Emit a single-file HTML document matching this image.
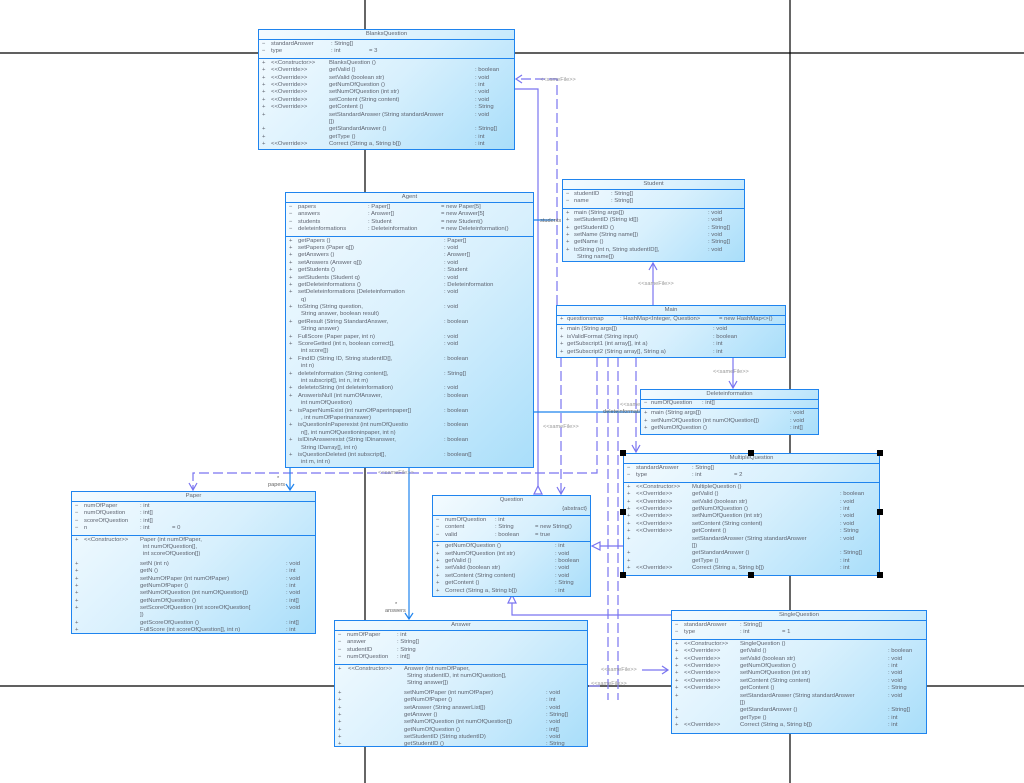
<!DOCTYPE html>
<html><head><meta charset="utf-8"><style>
body{margin:0;width:1024px;height:783px;background:#fff;position:relative;overflow:hidden;font-family:"Liberation Sans",sans-serif;}
.bx{position:absolute;border:1.5px solid #1f84ee;background:linear-gradient(135deg,#f4fbff 0%,#d8f0fd 50%,#a9defa 100%);box-sizing:border-box;font-size:5.9px;color:#5f6470;line-height:7.4px;white-space:nowrap;}
.h{text-align:center;border-bottom:1.5px solid #1f84ee;height:9px;line-height:9px;}
.s{border-bottom:1.5px solid #1f84ee;padding:1px 0 2px;}
.m{padding:1px 0;}
.r{position:relative;height:7.4px;}
.r span{position:absolute;top:0}
.v{left:3px}
svg{position:absolute;left:0;top:0}
</style></head><body>
<svg width="1024" height="783">
<g stroke="#000" stroke-width="1.2">
<line x1="0" y1="53" x2="1024" y2="53"/><line x1="0" y1="686" x2="1024" y2="686"/>
<line x1="365" y1="0" x2="365" y2="783"/><line x1="790" y1="0" x2="790" y2="783"/>
</g>
<g stroke="#7a74f0" stroke-width="1.2" fill="none">
<path d="M557 305V79H518" stroke-dasharray="10,4"/><path d="M522 75l-6 4 6 4"/>
<path d="M514 89H538V494" /><path d="M534 494h8l-4-8z" fill="#fff"/>
<path d="M561 357V493" stroke-dasharray="10,4"/><path d="M557 487l4 7 4-7"/>
<path d="M597 357V473H193V489" stroke-dasharray="10,4"/><path d="M189 483l4 7 4-7"/>
<path d="M608 357V700" stroke-dasharray="10,4"/><path d="M618 357V700" stroke-dasharray="10,4"/>
<path d="M636 357V451" stroke-dasharray="10,4"/><path d="M632 445l4 7 4-7"/>
<path d="M653 305V263"/><path d="M649 270l4-7 4 7"/>
<path d="M733 357V387"/><path d="M729 381l4 7 4-7"/>
<path d="M623 546H594"/><path d="M600 542l-8 4 8 4z" fill="#fff"/>
<path d="M671 615H512V598"/><path d="M508 603l4-8 4 8z" fill="#fff"/>
<path d="M642 670H668"/><path d="M662 666l6 4-6 4"/>
<path d="M589 686H600"/>
</g>
<g stroke="#1f84ee" stroke-width="1.2" fill="none">
<path d="M533 220H555"/><path d="M533 412H640"/>
<path d="M290 468V490"/><path d="M286 484l4 6 4-6"/>
<path d="M409 468V619"/><path d="M405 613l4 6 4-6"/>
</g>
<g font-size="5.6" fill="#666" font-family="Liberation Sans,sans-serif">
<text x="540" y="81" fill="#999">&lt;&lt;sameFile&gt;&gt;</text>
<text x="540" y="222">students</text>
<text x="638" y="285" fill="#999">&lt;&lt;sameFile&gt;&gt;</text>
<text x="713" y="373" fill="#999">&lt;&lt;sameFile&gt;&gt;</text>
<text x="620" y="406" fill="#999">&lt;&lt;sameFile&gt;&gt;</text>
<text x="603" y="413">deleteinformations</text>
<text x="543" y="428" fill="#999">&lt;&lt;sameFile&gt;&gt;</text>
<text x="378" y="474" fill="#999">&lt;&lt;sameFile&gt;&gt;</text>
<text x="277" y="480">*</text><text x="268" y="486">papers</text>
<text x="395" y="606">*</text><text x="385" y="612">answers</text>
<text x="601" y="671" fill="#999">&lt;&lt;sameFile&gt;&gt;</text>
<text x="591" y="685" fill="#999">&lt;&lt;sameFile&gt;&gt;</text>
</g>
</svg>

<div class="bx" style="left:258px;top:29px;width:257px;height:121px">
<div class="h">BlanksQuestion</div>
<div class="s"><div class="r"><span class="v">−</span><span style="left:12px">standardAnswer</span><span style="left:72px">: String[]</span></div>
<div class="r"><span class="v">−</span><span style="left:12px">type</span><span style="left:72px">: int</span><span style="left:110px">= 3</span></div></div>
<div class="m">
<div class="r"><span class="v">+</span><span style="left:12px">&lt;&lt;Constructor&gt;&gt;</span><span style="left:70px">BlanksQuestion ()</span></div>
<div class="r"><span class="v">+</span><span style="left:12px">&lt;&lt;Override&gt;&gt;</span><span style="left:70px">getValid ()</span><span style="left:216px">: boolean</span></div>
<div class="r"><span class="v">+</span><span style="left:12px">&lt;&lt;Override&gt;&gt;</span><span style="left:70px">setValid (boolean str)</span><span style="left:216px">: void</span></div>
<div class="r"><span class="v">+</span><span style="left:12px">&lt;&lt;Override&gt;&gt;</span><span style="left:70px">getNumOfQuestion ()</span><span style="left:216px">: int</span></div>
<div class="r"><span class="v">+</span><span style="left:12px">&lt;&lt;Override&gt;&gt;</span><span style="left:70px">setNumOfQuestion (int str)</span><span style="left:216px">: void</span></div>
<div class="r"><span class="v">+</span><span style="left:12px">&lt;&lt;Override&gt;&gt;</span><span style="left:70px">setContent (String content)</span><span style="left:216px">: void</span></div>
<div class="r"><span class="v">+</span><span style="left:12px">&lt;&lt;Override&gt;&gt;</span><span style="left:70px">getContent ()</span><span style="left:216px">: String</span></div>
<div class="r"><span class="v">+</span><span style="left:70px">setStandardAnswer (String standardAnswer</span><span style="left:216px">: void</span></div>
<div class="r"><span style="left:70px">[])</span></div>
<div class="r"><span class="v">+</span><span style="left:70px">getStandardAnswer ()</span><span style="left:216px">: String[]</span></div>
<div class="r"><span class="v">+</span><span style="left:70px">getType ()</span><span style="left:216px">: int</span></div>
<div class="r"><span class="v">+</span><span style="left:12px">&lt;&lt;Override&gt;&gt;</span><span style="left:70px">Correct (String a, String b[])</span><span style="left:216px">: int</span></div>
</div></div>

<div class="bx" style="left:285px;top:192px;width:249px;height:276px;line-height:7.5px">
<div class="h">Agent</div>
<div class="s"><div class="r"><span class="v">−</span><span style="left:12px">papers</span><span style="left:82px">: Paper[]</span><span style="left:155px">= new Paper[5]</span></div>
<div class="r"><span class="v">−</span><span style="left:12px">answers</span><span style="left:82px">: Answer[]</span><span style="left:155px">= new Answer[5]</span></div>
<div class="r"><span class="v">−</span><span style="left:12px">students</span><span style="left:82px">: Student</span><span style="left:155px">= new Student()</span></div>
<div class="r"><span class="v">−</span><span style="left:12px">deleteinformations</span><span style="left:82px">: Deleteinformation</span><span style="left:155px">= new Deleteinformation()</span></div></div>
<div class="m">
<div class="r"><span class="v">+</span><span style="left:12px">getPapers ()</span><span style="left:158px">: Paper[]</span></div>
<div class="r"><span class="v">+</span><span style="left:12px">setPapers (Paper q[])</span><span style="left:158px">: void</span></div>
<div class="r"><span class="v">+</span><span style="left:12px">getAnswers ()</span><span style="left:158px">: Answer[]</span></div>
<div class="r"><span class="v">+</span><span style="left:12px">setAnswers (Answer q[])</span><span style="left:158px">: void</span></div>
<div class="r"><span class="v">+</span><span style="left:12px">getStudents ()</span><span style="left:158px">: Student</span></div>
<div class="r"><span class="v">+</span><span style="left:12px">setStudents (Student q)</span><span style="left:158px">: void</span></div>
<div class="r"><span class="v">+</span><span style="left:12px">getDeleteinformations ()</span><span style="left:158px">: Deleteinformation</span></div>
<div class="r"><span class="v">+</span><span style="left:12px">setDeleteinformations (Deleteinformation</span><span style="left:158px">: void</span></div>
<div class="r"><span style="left:15px">q)</span></div>
<div class="r"><span class="v">+</span><span style="left:12px">toString (String question,</span><span style="left:158px">: void</span></div>
<div class="r"><span style="left:15px">String answer, boolean result)</span></div>
<div class="r"><span class="v">+</span><span style="left:12px">getResult (String StandardAnswer,</span><span style="left:158px">: boolean</span></div>
<div class="r"><span style="left:15px">String answer)</span></div>
<div class="r"><span class="v">+</span><span style="left:12px">FullScore (Paper paper, int n)</span><span style="left:158px">: void</span></div>
<div class="r"><span class="v">+</span><span style="left:12px">ScoreGetted (int n, boolean correct[],</span><span style="left:158px">: void</span></div>
<div class="r"><span style="left:15px">int score[])</span></div>
<div class="r"><span class="v">+</span><span style="left:12px">FindID (String ID, String studentID[],</span><span style="left:158px">: boolean</span></div>
<div class="r"><span style="left:15px">int n)</span></div>
<div class="r"><span class="v">+</span><span style="left:12px">deleteInformation (String content[],</span><span style="left:158px">: String[]</span></div>
<div class="r"><span style="left:15px">int subscript[], int n, int m)</span></div>
<div class="r"><span class="v">+</span><span style="left:12px">deletetoString (int deleteinformation)</span><span style="left:158px">: void</span></div>
<div class="r"><span class="v">+</span><span style="left:12px">AnswerisNull (int numOfAnswer,</span><span style="left:158px">: boolean</span></div>
<div class="r"><span style="left:15px">int numOfQuestion)</span></div>
<div class="r"><span class="v">+</span><span style="left:12px">isPaperNumExist (int numOfPaperinpaper[]</span><span style="left:158px">: boolean</span></div>
<div class="r"><span style="left:15px">, int numOfPaperinanswer)</span></div>
<div class="r"><span class="v">+</span><span style="left:12px">isQuestionInPaperexist (int numOfQuestio</span><span style="left:158px">: boolean</span></div>
<div class="r"><span style="left:15px">n[], int numOfQuestioninpaper, int n)</span></div>
<div class="r"><span class="v">+</span><span style="left:12px">isIDinAnswerexist (String IDinanswer,</span><span style="left:158px">: boolean</span></div>
<div class="r"><span style="left:15px">String IDarray[], int n)</span></div>
<div class="r"><span class="v">+</span><span style="left:12px">isQuestionDeleted (int subscript[],</span><span style="left:158px">: boolean[]</span></div>
<div class="r"><span style="left:15px">int m, int n)</span></div>
</div></div>

<div class="bx" style="left:562px;top:179px;width:183px;height:83px">
<div class="h">Student</div>
<div class="s"><div class="r"><span class="v">−</span><span style="left:11px">studentID</span><span style="left:48px">: String[]</span></div>
<div class="r"><span class="v">−</span><span style="left:11px">name</span><span style="left:48px">: String[]</span></div></div>
<div class="m">
<div class="r"><span class="v">+</span><span style="left:11px">main (String args[])</span><span style="left:145px">: void</span></div>
<div class="r"><span class="v">+</span><span style="left:11px">setStudentID (String id[])</span><span style="left:145px">: void</span></div>
<div class="r"><span class="v">+</span><span style="left:11px">getStudentID ()</span><span style="left:145px">: String[]</span></div>
<div class="r"><span class="v">+</span><span style="left:11px">setName (String name[])</span><span style="left:145px">: void</span></div>
<div class="r"><span class="v">+</span><span style="left:11px">getName ()</span><span style="left:145px">: String[]</span></div>
<div class="r"><span class="v">+</span><span style="left:11px">toString (int n, String studentID[],</span><span style="left:145px">: void</span></div>
<div class="r"><span style="left:14px">String name[])</span></div>
</div></div>

<div class="bx" style="left:556px;top:305px;width:230px;height:53px">
<div class="h">Main</div>
<div class="s" style="padding:0 0 1px"><div class="r"><span class="v">+</span><span style="left:10px">questionsmap</span><span style="left:63px">: HashMap&lt;Integer, Question&gt;</span><span style="left:162px">= new HashMap&lt;&gt;()</span></div></div>
<div class="m">
<div class="r"><span class="v">+</span><span style="left:10px">main (String args[])</span><span style="left:156px">: void</span></div>
<div class="r"><span class="v">+</span><span style="left:10px">isValidFormat (String input)</span><span style="left:156px">: boolean</span></div>
<div class="r"><span class="v">+</span><span style="left:10px">getSubscript1 (int array[], int a)</span><span style="left:156px">: int</span></div>
<div class="r"><span class="v">+</span><span style="left:10px">getSubscript2 (String array[], String a)</span><span style="left:156px">: int</span></div>
</div></div>

<div class="bx" style="left:640px;top:389px;width:179px;height:46px">
<div class="h">Deleteinformation</div>
<div class="s" style="padding:0 0 1px"><div class="r"><span class="v">−</span><span style="left:10px">numOfQuestion</span><span style="left:61px">: int[]</span></div></div>
<div class="m">
<div class="r"><span class="v">+</span><span style="left:10px">main (String args[])</span><span style="left:149px">: void</span></div>
<div class="r"><span class="v">+</span><span style="left:10px">setNumOfQuestion (int numOfQuestion[])</span><span style="left:149px">: void</span></div>
<div class="r"><span class="v">+</span><span style="left:10px">getNumOfQuestion ()</span><span style="left:149px">: int[]</span></div>
</div></div>

<div class="bx" style="left:623px;top:453px;width:257px;height:123px">
<div class="h">MultipleQuestion</div>
<div class="s"><div class="r"><span class="v">−</span><span style="left:12px">standardAnswer</span><span style="left:68px">: String[]</span></div>
<div class="r"><span class="v">−</span><span style="left:12px">type</span><span style="left:68px">: int</span><span style="left:110px">= 2</span></div></div>
<div class="m">
<div class="r"><span class="v">+</span><span style="left:12px">&lt;&lt;Constructor&gt;&gt;</span><span style="left:68px">MultipleQuestion ()</span></div>
<div class="r"><span class="v">+</span><span style="left:12px">&lt;&lt;Override&gt;&gt;</span><span style="left:68px">getValid ()</span><span style="left:216px">: boolean</span></div>
<div class="r"><span class="v">+</span><span style="left:12px">&lt;&lt;Override&gt;&gt;</span><span style="left:68px">setValid (boolean str)</span><span style="left:216px">: void</span></div>
<div class="r"><span class="v">+</span><span style="left:12px">&lt;&lt;Override&gt;&gt;</span><span style="left:68px">getNumOfQuestion ()</span><span style="left:216px">: int</span></div>
<div class="r"><span class="v">+</span><span style="left:12px">&lt;&lt;Override&gt;&gt;</span><span style="left:68px">setNumOfQuestion (int str)</span><span style="left:216px">: void</span></div>
<div class="r"><span class="v">+</span><span style="left:12px">&lt;&lt;Override&gt;&gt;</span><span style="left:68px">setContent (String content)</span><span style="left:216px">: void</span></div>
<div class="r"><span class="v">+</span><span style="left:12px">&lt;&lt;Override&gt;&gt;</span><span style="left:68px">getContent ()</span><span style="left:216px">: String</span></div>
<div class="r"><span class="v">+</span><span style="left:68px">setStandardAnswer (String standardAnswer</span><span style="left:216px">: void</span></div>
<div class="r"><span style="left:68px">[])</span></div>
<div class="r"><span class="v">+</span><span style="left:68px">getStandardAnswer ()</span><span style="left:216px">: String[]</span></div>
<div class="r"><span class="v">+</span><span style="left:68px">getType ()</span><span style="left:216px">: int</span></div>
<div class="r"><span class="v">+</span><span style="left:12px">&lt;&lt;Override&gt;&gt;</span><span style="left:68px">Correct (String a, String b[])</span><span style="left:216px">: int</span></div>
</div></div>

<div class="bx" style="left:71px;top:491px;width:245px;height:143px">
<div class="h">Paper</div>
<div class="s"><div class="r"><span class="v">−</span><span style="left:12px">numOfPaper</span><span style="left:68px">: int</span></div>
<div class="r"><span class="v">−</span><span style="left:12px">numOfQuestion</span><span style="left:68px">: int[]</span></div>
<div class="r"><span class="v">−</span><span style="left:12px">scoreOfQuestion</span><span style="left:68px">: int[]</span></div>
<div class="r"><span class="v">−</span><span style="left:12px">n</span><span style="left:68px">: int</span><span style="left:100px">= 0</span></div></div>
<div class="m">
<div class="r"><span class="v">+</span><span style="left:12px">&lt;&lt;Constructor&gt;&gt;</span><span style="left:68px">Paper (int numOfPaper,</span></div>
<div class="r"><span style="left:71px">int numOfQuestion[],</span></div>
<div class="r" style="margin-bottom:2px"><span style="left:71px">int scoreOfQuestion[])</span></div>
<div class="r"><span class="v">+</span><span style="left:68px">setN (int n)</span><span style="left:214px">: void</span></div>
<div class="r"><span class="v">+</span><span style="left:68px">getN ()</span><span style="left:214px">: int</span></div>
<div class="r"><span class="v">+</span><span style="left:68px">setNumOfPaper (int numOfPaper)</span><span style="left:214px">: void</span></div>
<div class="r"><span class="v">+</span><span style="left:68px">getNumOfPaper ()</span><span style="left:214px">: int</span></div>
<div class="r"><span class="v">+</span><span style="left:68px">setNumOfQuestion (int numOfQuestion[])</span><span style="left:214px">: void</span></div>
<div class="r"><span class="v">+</span><span style="left:68px">getNumOfQuestion ()</span><span style="left:214px">: int[]</span></div>
<div class="r"><span class="v">+</span><span style="left:68px">setScoreOfQuestion (int scoreOfQuestion[</span><span style="left:214px">: void</span></div>
<div class="r"><span style="left:68px">])</span></div>
<div class="r"><span class="v">+</span><span style="left:68px">getScoreOfQuestion ()</span><span style="left:214px">: int[]</span></div>
<div class="r"><span class="v">+</span><span style="left:68px">FullScore (int scoreOfQuestion[], int n)</span><span style="left:214px">: int</span></div>
</div></div>

<div class="bx" style="left:432px;top:495px;width:159px;height:102px">
<div class="h" style="height:19px;position:relative">Question<span style="position:absolute;right:3px;top:9px;line-height:9px">{abstract}</span></div>
<div class="s"><div class="r"><span class="v">−</span><span style="left:12px">numOfQuestion</span><span style="left:62px">: int</span></div>
<div class="r"><span class="v">−</span><span style="left:12px">content</span><span style="left:62px">: String</span><span style="left:102px">= new String()</span></div>
<div class="r"><span class="v">−</span><span style="left:12px">valid</span><span style="left:62px">: boolean</span><span style="left:102px">= true</span></div></div>
<div class="m">
<div class="r"><span class="v">+</span><span style="left:12px">getNumOfQuestion ()</span><span style="left:122px">: int</span></div>
<div class="r"><span class="v">+</span><span style="left:12px">setNumOfQuestion (int str)</span><span style="left:122px">: void</span></div>
<div class="r"><span class="v">+</span><span style="left:12px">getValid ()</span><span style="left:122px">: boolean</span></div>
<div class="r"><span class="v">+</span><span style="left:12px">setValid (boolean str)</span><span style="left:122px">: void</span></div>
<div class="r"><span class="v">+</span><span style="left:12px">setContent (String content)</span><span style="left:122px">: void</span></div>
<div class="r"><span class="v">+</span><span style="left:12px">getContent ()</span><span style="left:122px">: String</span></div>
<div class="r"><span class="v">+</span><span style="left:12px">Correct (String a, String b[])</span><span style="left:122px">: int</span></div>
</div></div>

<div class="bx" style="left:334px;top:620px;width:254px;height:127px">
<div class="h">Answer</div>
<div class="s"><div class="r"><span class="v">−</span><span style="left:12px">numOfPaper</span><span style="left:62px">: int</span></div>
<div class="r"><span class="v">−</span><span style="left:12px">answer</span><span style="left:62px">: String[]</span></div>
<div class="r"><span class="v">−</span><span style="left:12px">studentID</span><span style="left:62px">: String</span></div>
<div class="r"><span class="v">−</span><span style="left:12px">numOfQuestion</span><span style="left:62px">: int[]</span></div></div>
<div class="m">
<div class="r"><span class="v">+</span><span style="left:13px">&lt;&lt;Constructor&gt;&gt;</span><span style="left:69px">Answer (int numOfPaper,</span></div>
<div class="r"><span style="left:72px">String studentID, int numOfQuestion[],</span></div>
<div class="r" style="margin-bottom:2px"><span style="left:72px">String answer[])</span></div>
<div class="r"><span class="v">+</span><span style="left:69px">setNumOfPaper (int numOfPaper)</span><span style="left:211px">: void</span></div>
<div class="r"><span class="v">+</span><span style="left:69px">getNumOfPaper ()</span><span style="left:211px">: int</span></div>
<div class="r"><span class="v">+</span><span style="left:69px">setAnswer (String answerList[])</span><span style="left:211px">: void</span></div>
<div class="r"><span class="v">+</span><span style="left:69px">getAnswer ()</span><span style="left:211px">: String[]</span></div>
<div class="r"><span class="v">+</span><span style="left:69px">setNumOfQuestion (int numOfQuestion[])</span><span style="left:211px">: void</span></div>
<div class="r"><span class="v">+</span><span style="left:69px">getNumOfQuestion ()</span><span style="left:211px">: int[]</span></div>
<div class="r"><span class="v">+</span><span style="left:69px">setStudentID (String studentID)</span><span style="left:211px">: void</span></div>
<div class="r"><span class="v">+</span><span style="left:69px">getStudentID ()</span><span style="left:211px">: String</span></div>
</div></div>

<div class="bx" style="left:671px;top:610px;width:256px;height:124px">
<div class="h">SingleQuestion</div>
<div class="s"><div class="r"><span class="v">−</span><span style="left:12px">standardAnswer</span><span style="left:68px">: String[]</span></div>
<div class="r"><span class="v">−</span><span style="left:12px">type</span><span style="left:68px">: int</span><span style="left:110px">= 1</span></div></div>
<div class="m">
<div class="r"><span class="v">+</span><span style="left:12px">&lt;&lt;Constructor&gt;&gt;</span><span style="left:68px">SingleQuestion ()</span></div>
<div class="r"><span class="v">+</span><span style="left:12px">&lt;&lt;Override&gt;&gt;</span><span style="left:68px">getValid ()</span><span style="left:216px">: boolean</span></div>
<div class="r"><span class="v">+</span><span style="left:12px">&lt;&lt;Override&gt;&gt;</span><span style="left:68px">setValid (boolean str)</span><span style="left:216px">: void</span></div>
<div class="r"><span class="v">+</span><span style="left:12px">&lt;&lt;Override&gt;&gt;</span><span style="left:68px">getNumOfQuestion ()</span><span style="left:216px">: int</span></div>
<div class="r"><span class="v">+</span><span style="left:12px">&lt;&lt;Override&gt;&gt;</span><span style="left:68px">setNumOfQuestion (int str)</span><span style="left:216px">: void</span></div>
<div class="r"><span class="v">+</span><span style="left:12px">&lt;&lt;Override&gt;&gt;</span><span style="left:68px">setContent (String content)</span><span style="left:216px">: void</span></div>
<div class="r"><span class="v">+</span><span style="left:12px">&lt;&lt;Override&gt;&gt;</span><span style="left:68px">getContent ()</span><span style="left:216px">: String</span></div>
<div class="r"><span class="v">+</span><span style="left:68px">setStandardAnswer (String standardAnswer</span><span style="left:216px">: void</span></div>
<div class="r"><span style="left:68px">[])</span></div>
<div class="r"><span class="v">+</span><span style="left:68px">getStandardAnswer ()</span><span style="left:216px">: String[]</span></div>
<div class="r"><span class="v">+</span><span style="left:68px">getType ()</span><span style="left:216px">: int</span></div>
<div class="r"><span class="v">+</span><span style="left:12px">&lt;&lt;Override&gt;&gt;</span><span style="left:68px">Correct (String a, String b[])</span><span style="left:216px">: int</span></div>
</div></div>

<div style="position:absolute;left:620px;top:450px;width:6px;height:6px;background:#000"></div>
<div style="position:absolute;left:620px;top:509px;width:6px;height:6px;background:#000"></div>
<div style="position:absolute;left:620px;top:572px;width:6px;height:6px;background:#000"></div>
<div style="position:absolute;left:748px;top:450px;width:6px;height:6px;background:#000"></div>
<div style="position:absolute;left:748px;top:572px;width:6px;height:6px;background:#000"></div>
<div style="position:absolute;left:877px;top:450px;width:6px;height:6px;background:#000"></div>
<div style="position:absolute;left:877px;top:509px;width:6px;height:6px;background:#000"></div>
<div style="position:absolute;left:877px;top:572px;width:6px;height:6px;background:#000"></div>
</body></html>
